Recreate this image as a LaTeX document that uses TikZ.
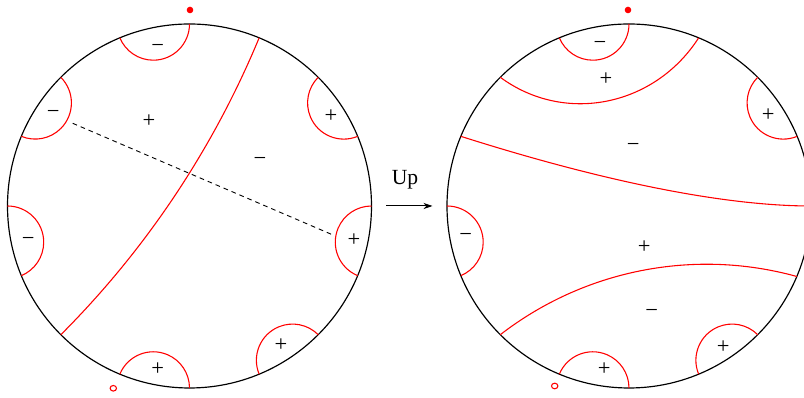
\documentclass[tikz,border=0pt]{standalone}
\usepackage{fontspec}
\setmainfont{Liberation Serif}
\usetikzlibrary{calc,arrows.meta}
\newcommand\geoarc[3]{%
  \pgfmathsetmacro\gm{(#2+#3)/2}%
  \pgfmathsetmacro\gg{(#3-#2)/2}%
  \pgfmathsetmacro\gr{182*tan(\gg)}%
  \pgfmathsetmacro\gsa{\gm+270-\gg}%
  \pgfmathsetmacro\gea{\gm+90+\gg}%
  \draw[geo] ($(#1)+(#2:182)$) arc[start angle=\gsa, end angle=\gea, radius=\gr];%
}
\begin{document}
\begin{tikzpicture}[x=0.5556pt,y=0.5556pt,
  rim/.style={draw=black,line width=0.65pt},
  geo/.style={draw=red,line width=0.6pt},
  sign/.style={inner sep=0pt,text height=0.56em,text depth=0pt,font=\fontsize{12.5}{14}\selectfont},
  hole/.style={draw=red,line width=0.6pt},
  spot/.style={fill=red}]
\useasboundingbox (0,0) rectangle (804,398);
\clip (0,0) rectangle (804,398);

% ---------- left disc ----------
\coordinate (Lc) at (189.5,192);
\draw[rim] (Lc) circle[radius=182];
\geoarc{Lc}{90}{112.5}
\geoarc{Lc}{135}{157.5}
\geoarc{Lc}{22.5}{45}
\geoarc{Lc}{67.5}{225}
\geoarc{Lc}{180}{202.5}
\geoarc{Lc}{-22.5}{0}
\geoarc{Lc}{247.5}{270}
\geoarc{Lc}{-67.5}{-45}
\coordinate (dA) at (72.7,274.7);
\coordinate (dB) at (333,163);
\draw[dashed,dash pattern=on 2.6pt off 2.2pt,line width=0.5pt] (dA) -- (dB);
\fill[spot] (190,388) circle[radius=3.3];
\draw[hole] (113.3,9.7) ellipse[x radius=3.2,y radius=2.8];

\node[sign] (l1) at (157.7,350.7) {−};
\node[sign] (l2) at (53.3,284.7) {−};
\node[sign] (l3) at (331,280.7) {+};
\node[sign] (l4) at (149,276) {+};
\node[sign] (l5) at (260,238) {−};
\node[sign] (l6) at (28.3,157.3) {−};
\node[sign] (l7) at (354,156.3) {+};
\node[sign] (l8) at (281,52) {+};
\node[sign] (l9) at (157.7,27.3) {+};

% ---------- arrow ----------
\coordinate (aS) at (386,192);
\coordinate (aE) at (432.5,192);
\draw[line width=0.55pt,-{Stealth[length=5pt,width=3.4pt,inset=1.6pt]}] (aS) -- (aE);
\node[font=\fontsize{12}{14}\selectfont,inner sep=0pt] (up) at (405,218) {Up};

% ---------- right disc ----------
\coordinate (Rc) at (629,192);
\draw[rim] (Rc) circle[radius=182];
\geoarc{Rc}{90}{112.5}
\geoarc{Rc}{22.5}{45}
\geoarc{Rc}{180}{202.5}
\geoarc{Rc}{247.5}{270}
\geoarc{Rc}{-67.5}{-45}
\coordinate (r135) at ($(Rc)+(135:182)$);
\coordinate (r67) at ($(Rc)+(67.5:182)$);
\coordinate (r157) at ($(Rc)+(157.5:182)$);
\coordinate (r0) at ($(Rc)+(0:182)$);
\coordinate (r225) at ($(Rc)+(225:182)$);
\draw[geo] (r135) .. controls (565,273) and (655,292) .. (r67);
\draw[geo] (r157) .. controls (614,213) and (731,192) .. (r0);
\draw[geo] (r225) arc[start angle=127.7, end angle=74.5, radius=337.5];
\fill[spot] (628,388) circle[radius=3.3];
\draw[hole] (554.7,12) ellipse[x radius=3.2,y radius=2.8];

\node[sign] (m1) at (600,354) {−};
\node[sign] (m2) at (606,318) {+};
\node[sign] (m3) at (768.3,282) {+};
\node[sign] (m4) at (633.3,251.3) {−};
\node[sign] (m5) at (465.7,162) {−};
\node[sign] (m6) at (644.3,149.7) {+};
\node[sign] (m7) at (651.7,85.3) {−};
\node[sign] (m8) at (604.3,27.3) {+};
\node[sign] (m9) at (723.3,49.7) {+};
\end{tikzpicture}
\end{document}
